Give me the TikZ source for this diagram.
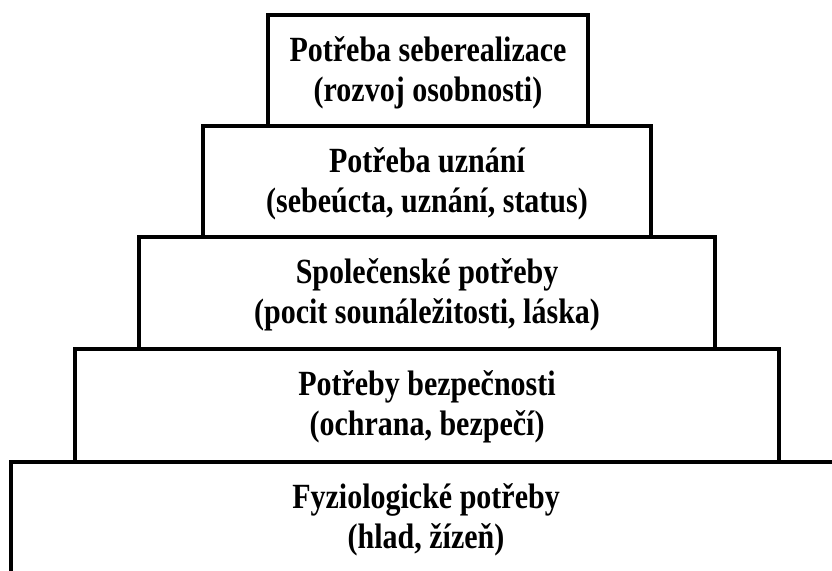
\documentclass[tikz,border=0pt]{standalone}
\usepackage{fontspec}
\setmainfont{Liberation Serif}
\newcommand{\tallx}[1]{\scalebox{1.0}[1.18]{#1}}
\begin{document}
\begin{tikzpicture}[x=1pt,y=-1pt,
  tier/.style={draw=black,line width=4.3pt,rectangle,inner sep=0pt,outer sep=0pt},
  lbl/.style={anchor=base,inner sep=0pt,font=\bfseries\fontsize{30}{36}\selectfont}]
\useasboundingbox (0,0) rectangle (832,570);
\clip (0,0) rectangle (832,570);
\fill[white] (0,0) rectangle (832,570);
% boxes
\node[tier,minimum width=320pt,minimum height=111pt] (b1) at (428,70.5) {};
\node[tier,minimum width=448pt,minimum height=111pt] (b2) at (427,181.5) {};
\node[tier,minimum width=576pt,minimum height=112pt] (b3) at (427,293) {};
\node[tier,minimum width=704pt,minimum height=113pt] (b4) at (427,405.5) {};
\node[tier,minimum width=832pt,minimum height=138pt] (b5) at (427,531) {};
% texts
\node[lbl] (t1a) at (428,61) {\tallx{Potřeba seberealizace}};
\node[lbl] (t1b) at (428,101) {\tallx{(rozvoj osobnosti)}};
\node[lbl] (t2a) at (427,172) {\tallx{Potřeba uznání}};
\node[lbl] (t2b) at (427,212) {\tallx{(sebeúcta, uznání, status)}};
\node[lbl] (t3a) at (427,283) {\tallx{Společenské potřeby}};
\node[lbl] (t3b) at (427,323) {\tallx{(pocit sounáležitosti, láska)}};
\node[lbl] (t4a) at (427,395) {\tallx{Potřeby bezpečnosti}};
\node[lbl] (t4b) at (427,435) {\tallx{(ochrana, bezpečí)}};
\node[lbl] (t5a) at (426,508) {\tallx{Fyziologické potřeby}};
\node[lbl] (t5b) at (426,548) {\tallx{(hlad, žízeň)}};
\end{tikzpicture}
\end{document}
